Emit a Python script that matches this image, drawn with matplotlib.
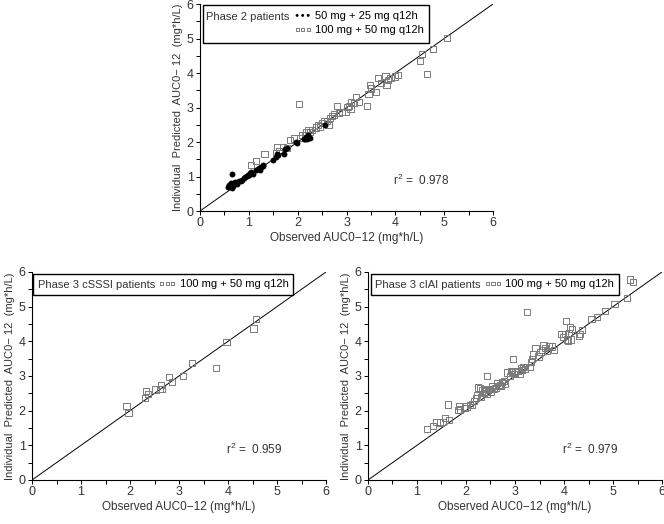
import matplotlib
matplotlib.use('Agg')
import matplotlib.pyplot as plt
from matplotlib.patches import Rectangle
from matplotlib.ticker import MultipleLocator

plt.rcParams['font.family'] = ['Liberation Sans', 'DejaVu Sans']
plt.rcParams['mathtext.fontset'] = 'custom'
plt.rcParams['mathtext.rm'] = 'Liberation Sans'
plt.rcParams['mathtext.it'] = 'Liberation Sans'

# Phase 2, 50 mg + 25 mg q12h (filled circles)
p2_low_obs = [0.58, 0.60, 0.62, 0.63, 0.65, 0.66, 0.67, 0.68, 0.70, 0.72, 0.75, 0.80, 0.83,
              0.87, 0.90, 0.93, 0.96, 0.98, 1.00, 1.03, 1.05, 1.08, 1.15, 1.18, 1.20, 1.22,
              1.25, 1.28, 1.30, 1.50, 1.55, 1.57, 1.60, 1.72, 1.75, 1.78, 1.96, 1.98, 2.12,
              2.15, 2.18, 2.20, 2.22, 2.25, 2.55]
p2_low_pred = [0.70, 0.75, 0.72, 0.80, 0.68, 1.07, 0.78, 0.72, 0.82, 0.85, 0.77, 0.86, 0.88,
               0.90, 0.95, 0.98, 1.02, 1.05, 1.05, 1.10, 1.12, 1.08, 1.18, 1.22, 1.25, 1.20,
               1.28, 1.32, 1.30, 1.48, 1.58, 1.65, 1.62, 1.65, 1.80, 1.83, 2.00, 1.96, 2.10,
               2.08, 2.15, 2.10, 2.20, 2.12, 2.49]

# Phase 2, 100 mg + 50 mg q12h (open squares)
p2_high_obs = [1.05, 1.15, 1.32, 1.55, 1.58, 1.62, 1.70, 1.78, 1.85, 1.92, 2.02, 2.05, 2.10,
               2.15, 2.18, 2.22, 2.25, 2.30, 2.38, 2.42, 2.45, 2.50, 2.55, 2.60, 2.63, 2.66,
               2.70, 2.75, 2.80, 2.85, 2.90, 2.98, 3.02, 3.05, 3.08, 3.10, 3.15, 3.20, 3.25,
               3.42, 3.45, 3.48, 3.50, 3.60, 3.65, 3.70, 3.80, 3.82, 3.85, 3.90, 4.00, 4.05,
               4.50, 4.55, 4.65, 4.77, 5.05]
p2_high_pred = [1.33, 1.45, 1.66, 1.68, 1.85, 1.75, 1.85, 1.82, 2.05, 2.10, 3.10, 2.12, 2.20,
                2.20, 2.30, 2.35, 2.28, 2.35, 2.42, 2.50, 2.45, 2.55, 2.60, 2.62, 2.50, 2.70,
                2.75, 2.80, 3.05, 2.85, 2.88, 2.88, 3.02, 3.05, 2.95, 3.15, 3.12, 3.30, 3.15,
                3.05, 3.40, 3.65, 3.55, 3.45, 3.85, 3.70, 3.92, 3.65, 3.80, 3.85, 3.90, 3.95,
                4.35, 4.55, 3.98, 4.70, 5.02]

# Phase 3 cSSSI
csssi_obs = [1.93, 1.97, 2.31, 2.33, 2.37, 2.52, 2.62, 2.64, 2.66, 2.80, 2.85, 3.08, 3.27,
             3.76, 3.97, 4.52, 4.57]
csssi_pred = [2.13, 1.93, 2.37, 2.57, 2.48, 2.61, 2.62, 2.75, 2.63, 2.96, 2.82, 2.99, 3.38,
              3.24, 3.98, 4.37, 4.65]

# Phase 3 cIAI
ciai_obs = [1.21, 1.33, 1.40, 1.47, 1.53, 1.57, 1.63, 1.65, 1.83, 1.85, 1.88, 1.98, 2.01,
            2.08, 2.13, 2.17, 2.20, 2.22, 2.25, 2.28, 2.30, 2.33, 2.36, 2.38, 2.40, 2.42,
            2.43, 2.45, 2.48, 2.50, 2.53, 2.56, 2.60, 2.64, 2.67, 2.70, 2.72, 2.74, 2.77,
            2.80, 2.84, 2.90, 2.92, 2.94, 2.96, 2.98, 3.00, 3.05, 3.10, 3.12, 3.15, 3.17,
            3.20, 3.25, 3.30, 3.32, 3.34, 3.36, 3.42, 3.48, 3.52, 3.55, 3.58, 3.62, 3.66,
            3.70, 3.75, 3.80, 3.95, 3.98, 4.02, 4.04, 4.06, 4.08, 4.10, 4.12, 4.14, 4.17,
            4.30, 4.32, 4.36, 4.56, 4.68, 4.83, 5.03, 5.28, 5.34, 5.40]
ciai_pred = [1.47, 1.55, 1.68, 1.66, 1.68, 1.78, 2.18, 1.73, 2.02, 2.14, 2.03, 2.08, 2.12,
             2.16, 2.18, 2.28, 2.36, 2.44, 2.67, 2.65, 2.40, 2.58, 2.50, 2.62, 2.55, 2.48,
             2.99, 2.60, 2.63, 2.55, 2.70, 2.62, 2.65, 2.80, 2.70, 2.75, 2.70, 2.82, 2.85,
             2.78, 3.10, 3.00, 3.14, 3.12, 3.50, 3.05, 3.10, 3.15, 3.06, 3.22, 3.18, 3.25,
             3.20, 4.84, 3.25, 3.40, 3.50, 3.62, 3.80, 3.56, 3.70, 3.75, 3.88, 3.80, 3.72,
             3.85, 3.85, 3.75, 4.20, 4.12, 4.20, 4.58, 4.05, 4.02, 4.25, 4.42, 4.05, 4.35,
             4.15, 4.22, 4.33, 4.65, 4.70, 4.88, 5.08, 5.24, 5.78, 5.70]

r2_values = ['0.978', '0.959', '0.979']
dose_low = '50 mg + 25 mg q12h'
dose_high = '100 mg + 50 mg q12h'

fig = plt.figure(figsize=(6.64, 5.24), dpi=100)
ax_top = fig.add_axes([0.3012, 0.5973, 0.4413, 0.395])
ax_bl = fig.add_axes([0.0482, 0.084, 0.4428, 0.397])
ax_br = fig.add_axes([0.5542, 0.084, 0.4428, 0.397])

txt = '#333333'
fs = 8
sq = dict(marker='s', s=20, facecolors='none', edgecolors='#7a7a7a', linewidths=0.7)
leg_kw = dict(loc='upper left', frameon=False, scatterpoints=3, scatteryoffsets=[0.5],
              markerscale=0.5, fontsize=fs, handlelength=1.6, handletextpad=0.3,
              labelspacing=0.35, borderpad=0, borderaxespad=0)


def setup(ax, r2):
    ax.plot([0, 6], [0, 6], color='black', lw=0.7, zorder=1)
    ax.set_xlim(0, 6)
    ax.set_ylim(0, 6)
    for s in ['top', 'right']:
        ax.spines[s].set_visible(False)
    for s in ['left', 'bottom']:
        ax.spines[s].set_linewidth(0.8)
    ax.xaxis.set_major_locator(MultipleLocator(1))
    ax.yaxis.set_major_locator(MultipleLocator(1))
    ax.xaxis.set_minor_locator(MultipleLocator(0.5))
    ax.yaxis.set_minor_locator(MultipleLocator(0.5))
    ax.tick_params(which='both', direction='out', length=3, width=0.7, labelsize=9,
                   labelcolor=txt, pad=1.5)
    ax.set_xlabel('Observed AUC0\u221212 (mg*h/L)', fontsize=8.5, color=txt, labelpad=2)
    ax.set_ylabel('Individual  Predicted  AUC0\u2212 12  (mg*h/L)', fontsize=fs,
                  color=txt, labelpad=3)
    ax.text(3.95, 0.75, r'r$^{\mathrm{2}}$ =  ' + r2, fontsize=8.5, color=txt)


# top panel
ax_top.scatter(p2_low_obs, p2_low_pred, marker='o', s=18, color='black', linewidths=0,
               zorder=3, label=dose_low)
ax_top.scatter(p2_high_obs, p2_high_pred, zorder=2, label=dose_high, **sq)
setup(ax_top, r2_values[0])
ax_top.add_patch(Rectangle((0.06, 4.87), 4.63, 1.1, fill=False, lw=1, ec='black',
                           clip_on=False))
ax_top.text(0.12, 5.62, 'Phase 2 patients', fontsize=fs, color=txt, va='center')
ax_top.legend(bbox_to_anchor=(0.32, 0.965), **leg_kw)

# bottom left
ax_bl.scatter(csssi_obs, csssi_pred, zorder=2, label=dose_high, **sq)
setup(ax_bl, r2_values[1])
ax_bl.add_patch(Rectangle((0.03, 5.34), 5.3, 0.61, fill=False, lw=1, ec='black',
                          clip_on=False))
ax_bl.text(0.12, 5.63, 'Phase 3 cSSSI patients', fontsize=fs, color=txt, va='center')
ax_bl.legend(bbox_to_anchor=(0.43, 0.965), **leg_kw)

# bottom right
ax_br.scatter(ciai_obs, ciai_pred, zorder=2, label=dose_high, **sq)
setup(ax_br, r2_values[2])
ax_br.add_patch(Rectangle((0.06, 5.34), 5.07, 0.61, fill=False, lw=1, ec='black',
                          clip_on=False))
ax_br.text(0.14, 5.63, 'Phase 3 cIAI patients', fontsize=fs, color=txt, va='center')
ax_br.legend(bbox_to_anchor=(0.395, 0.965), **leg_kw)

fig.savefig('out.png', dpi=100)
